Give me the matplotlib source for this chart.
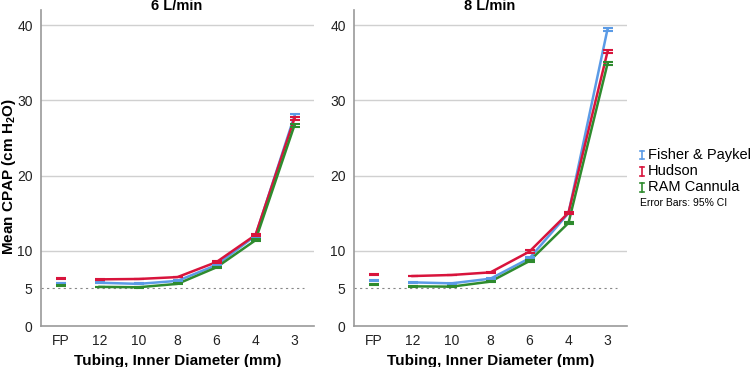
import numpy as np
import matplotlib
matplotlib.use('Agg')
import matplotlib.pyplot as plt
from matplotlib.lines import Line2D

plt.rcParams['font.family'] = ['Liberation Sans', 'DejaVu Sans']
plt.rcParams['mathtext.default'] = 'regular'

categories = ['FP', '12', '10', '8', '6', '4', '3']
series = ['Fisher & Paykel', 'Hudson', 'RAM Cannula']
colors = ['#5b9be6', '#d8143c', '#2e8b2e']

# mean CPAP, 6 L/min
fp6 = [5.7, 5.75, 5.6, 6.0, 8.1, 12.0, 27.95]
hud6 = [6.3, 6.2, 6.25, 6.5, 8.5, 12.1, 27.6]
ram6 = [5.35, 5.2, 5.15, 5.6, 7.8, 11.4, 26.7]
# mean CPAP, 8 L/min
fp8 = [6.0, 5.8, 5.67, 6.29, 9.0, 15.0, 39.45]
hud8 = [6.87, 6.64, 6.78, 7.13, 9.9, 15.06, 36.45]
ram8 = [5.5, 5.27, 5.23, 5.9, 8.64, 13.7, 34.85]
# half width of 95% CI
ci6 = [0.05, 0.05, 0.05, 0.05, 0.1, 0.15, 0.2]
ci8 = [0.05, 0.05, 0.05, 0.05, 0.15, 0.15, 0.2]

panels = [('6 L/min', [fp6, hud6, ram6], ci6), ('8 L/min', [fp8, hud8, ram8], ci8)]

W, H = 751, 367
fig = plt.figure(figsize=(W / 100, H / 100), dpi=100)
lefts = [41, 354]
x = np.arange(len(categories))
for k, (title, data, ci) in enumerate(panels):
    ax = fig.add_axes([lefts[k] / W, 1 - 326 / H, 273 / W, 316 / H])
    for g in [10, 20, 30, 40]:
        ax.axhline(g, color='#d0d0d0', lw=1, zorder=0)
    ax.plot([-0.5, 6.25], [5, 5], color='#888888', lw=0.8, ls=(0, (2, 3)), zorder=1)
    for vals, c in zip(data, colors):
        ax.plot(x[1:], vals[1:], color=c, lw=1.8, zorder=3)
        ax.errorbar(x, vals, yerr=ci, fmt='none', ecolor=c, elinewidth=1.2,
                    capsize=3.5, capthick=1.5, zorder=4)
    ax.set_xlim(-0.5, 6.5)
    ax.set_ylim(0, 42)
    ax.set_xticks(x)
    ax.set_xticklabels(categories)
    ax.set_yticks([0, 5, 10, 20, 30, 40])
    ax.tick_params(length=0, labelsize=10, labelcolor='#222222', pad=6)
    for s in ['top', 'right']:
        ax.spines[s].set_visible(False)
    for s in ['left', 'bottom']:
        ax.spines[s].set_color('#999999')
        ax.spines[s].set_linewidth(1.2)
    ax.set_xlabel('Tubing, Inner Diameter (mm)', fontsize=11, fontweight='bold', labelpad=4)
    fig.text((lefts[k] + 136) / W, 1 - 6 / H, title, fontsize=10.5, fontweight='bold',
             ha='center', va='center')

fig.text(9 / W, 1 - 177 / H, 'Mean CPAP (cm H$_{2}$O)', fontsize=11, fontweight='bold',
         rotation=90, ha='center', va='center')

# legend with error-bar glyphs
for i, (name, c) in enumerate(zip(series, colors)):
    yc = 155 + 16 * i
    fig.add_artist(Line2D([642 / W, 642 / W], [1 - (yc - 4.5) / H, 1 - (yc + 4.5) / H],
                          color=c, lw=1.2))
    for yy in [yc - 4.5, yc + 4.5]:
        fig.add_artist(Line2D([640 / W, 644 / W], [1 - yy / H, 1 - yy / H], color=c, lw=1.2))
    fig.text(648 / W, 1 - yc / H, name, fontsize=10.5, va='center', ha='left')
fig.text(640 / W, 1 - 203 / H, 'Error Bars: 95% CI', fontsize=7.5, va='center', ha='left')

fig.savefig('out.png', dpi=100)
